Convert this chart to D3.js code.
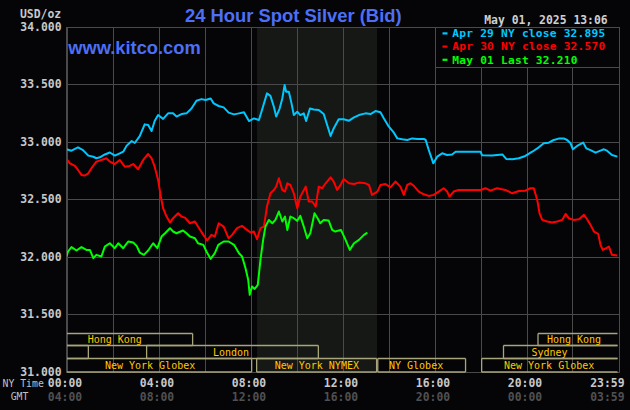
<!DOCTYPE html>
<html><head><meta charset="utf-8">
<script src="https://cdn.jsdelivr.net/npm/d3@7"></script>
<style>
html,body{margin:0;padding:0;background:#050508;}
svg{display:block;}
</style></head>
<body>
<svg id="c" width="630" height="410"></svg>
<script>
// ---- data (time in minutes after 00:00 NY time) ----
const blueT = [0,13,30,43,57,70,78,87,100,113,126,139,148,157,170,178,191,204,213,222,230,239,252,265,278,287,300,313,326,339,352,363,376,384,397,410,423,437,450,463,476,489,502,510,523,532,541,547,556,563,569,573,580,587,593,602,610,619,625,635,645,658,671,680,689,697,710,723,737,750,763,780,793,806,819,828,841,854,863,876,889,902,915,932,937,945,957,967,980,993,1006,1015,1041,1080,1084,1110,1137,1147,1163,1180,1197,1215,1232,1245,1258,1271,1284,1297,1306,1315,1321,1332,1348,1356,1367,1380,1393,1402,1410,1423,1437];
const blueV = [32.935,32.923,32.952,32.928,32.88,32.87,32.857,32.865,32.89,32.907,32.88,32.9,32.914,32.967,33.007,32.99,33.05,33.152,33.146,33.094,33.181,33.233,33.2,33.248,33.248,33.22,33.242,33.248,33.29,33.358,33.372,33.365,33.378,33.335,33.312,33.3,33.254,33.239,33.248,33.257,33.181,33.204,33.19,33.277,33.422,33.4,33.306,33.22,33.29,33.378,33.494,33.436,33.436,33.335,33.233,33.262,33.233,33.248,33.181,33.29,33.281,33.277,33.242,33.146,33.051,33.117,33.196,33.196,33.184,33.213,33.233,33.248,33.242,33.268,33.257,33.204,33.132,33.08,33.03,33.022,33.016,33.03,33.025,33.025,33.016,32.929,32.813,32.871,32.9,32.886,32.89,32.914,32.914,32.914,32.883,32.88,32.89,32.851,32.848,32.857,32.877,32.914,32.952,32.987,32.993,33.016,33.028,33.03,33.016,32.987,32.935,32.964,32.993,32.943,32.928,32.906,32.923,32.935,32.923,32.886,32.871];

const redT = [0,9,22,30,39,48,57,65,78,91,104,113,126,139,152,165,174,187,200,213,222,230,239,246,252,261,270,278,291,300,309,322,335,343,357,367,378,387,397,410,423,432,445,458,471,480,489,497,506,515,523,532,541,547,554,563,570,576,584,593,602,610,624,632,641,650,658,667,676,689,697,706,715,723,737,750,763,780,789,797,811,819,832,845,858,871,880,889,897,906,919,932,945,958,971,984,993,999,1010,1023,1080,1093,1106,1123,1145,1163,1180,1197,1210,1219,1228,1234,1241,1254,1267,1280,1293,1302,1310,1323,1337,1350,1358,1367,1376,1387,1393,1399,1408,1415,1423,1437];
const redV = [32.851,32.813,32.79,32.755,32.712,32.707,32.726,32.77,32.828,32.842,32.857,32.828,32.807,32.842,32.784,32.79,32.807,32.761,32.842,32.894,32.857,32.784,32.668,32.523,32.422,32.349,32.297,32.335,32.378,32.349,32.34,32.291,32.306,32.262,32.19,32.141,32.19,32.175,32.291,32.262,32.16,32.19,32.248,32.268,32.233,32.21,32.219,32.152,32.248,32.262,32.436,32.552,32.581,32.61,32.683,32.581,32.567,32.639,32.625,32.552,32.422,32.523,32.61,32.48,32.48,32.436,32.61,32.596,32.639,32.691,32.654,32.581,32.625,32.677,32.639,32.633,32.645,32.639,32.625,32.538,32.567,32.625,32.633,32.604,32.654,32.61,32.538,32.625,32.639,32.617,32.567,32.543,32.529,32.538,32.567,32.596,32.567,32.523,32.567,32.581,32.581,32.596,32.575,32.596,32.581,32.552,32.572,32.575,32.596,32.596,32.494,32.378,32.32,32.306,32.297,32.306,32.32,32.372,32.335,32.32,32.326,32.364,32.326,32.277,32.219,32.199,32.103,32.059,32.074,32.088,32.016,32.01];

const greenT = [0,4,13,26,39,52,61,70,78,91,100,113,126,135,148,161,174,183,191,202,213,226,237,248,257,270,278,287,304,313,322,335,343,357,365,376,387,396,410,423,437,450,458,467,474,478,484,491,499,506,513,519,528,537,545,554,563,570,576,584,593,602,610,619,628,636,647,655,662,671,684,693,701,716,728,739,750,763,776,785];
const greenV = [32.001,32.045,32.083,32.054,32.083,32.059,32.059,31.987,32.016,32.001,32.088,32.117,32.074,32.117,32.074,32.132,32.123,32.094,32.036,32.016,32.054,32.117,32.074,32.175,32.204,32.248,32.219,32.204,32.228,32.204,32.175,32.161,32.117,32.103,32.045,31.981,32.03,32.103,32.132,32.132,32.103,32.03,32.001,31.9,31.799,31.668,31.741,31.719,31.755,31.972,32.146,32.262,32.32,32.291,32.32,32.393,32.306,32.349,32.233,32.349,32.335,32.312,32.355,32.262,32.161,32.204,32.378,32.335,32.291,32.32,32.314,32.233,32.219,32.233,32.146,32.059,32.117,32.146,32.19,32.21];

const yTicks = [31.0,31.5,32.0,32.5,33.0,33.5,34.0];
const xTicks = [0,240,480,720,960,1200,1439];
const nyLabels = ["00:00","04:00","08:00","12:00","16:00","20:00","23:59"];
const gmtLabels = ["04:00","08:00","12:00","16:00","20:00","00:00","03:59"];
const legendLabels = ["Apr 29 NY close 32.895","Apr 30 NY close 32.570","May 01 Last 32.210"];
const seriesColors = ["#00c8ff","#ff0000","#00ff00"];
const nymexShade = [497, 810];
// sessions: row, start, end, label, label centre (minutes)
const sessRow = [0,0,1,1,1,2,2,2,2];
const sessStart = [0,1230,0,209,1140,0,496,812,1083];
const sessEnd = [329,1440,57,657,1440,483,809,1041,1440];
const sessLabel = ["Hong Kong","Hong Kong","","London","Sydney","New York Globex","New York NYMEX","NY Globex","New York Globex"];
const sessLabelAt = [126,1324,0,429,1260,218,653,912,1259];

// ---- layout ----
const L = 66.5, R = 618.5, T = 27, B = 371.5;
const x = d3.scaleLinear().domain([0,1440]).range([L,R]);
const y = d3.scaleLinear().domain([31,34]).range([B,T]);
const svg = d3.select("#c");
const mono = "'DejaVu Sans Mono', monospace";
const gridC = "#4a4a4a";

svg.append("rect").attr("width",630).attr("height",410).attr("fill","#050508");

// shaded NYMEX hours
svg.append("rect").attr("x",x(nymexShade[0])).attr("y",T).attr("width",x(nymexShade[1])-x(nymexShade[0])).attr("height",B-T).attr("fill","#151815");

// grid
const grid = svg.append("g").attr("shape-rendering","crispEdges").attr("stroke",gridC).attr("stroke-width",1);
const hGrid = d3.range(0,1441,120);
grid.selectAll("line.v").data(hGrid).join("line").attr("class","v")
  .attr("x1",d=>Math.round(x(d))+0.5).attr("x2",d=>Math.round(x(d))+0.5).attr("y1",T).attr("y2",B+0.5);
grid.selectAll("line.h").data(yTicks).join("line").attr("class","h")
  .attr("x1",L).attr("x2",R+1).attr("y1",d=>Math.round(y(d))+0.5).attr("y2",d=>Math.round(y(d))+0.5);

// sessions
const rowTop = [333.5,345.5,358.5], rowH = [12,13,13.5];
const sg = svg.append("g").attr("stroke","#a8a57a").attr("stroke-width",1.3).attr("fill","none");
sessRow.forEach((r,i)=>{
  const x0 = x(sessStart[i]), x1 = sessEnd[i]>=1440 ? R-1 : x(sessEnd[i]);
  const y0 = rowTop[r], y1 = rowTop[r]+rowH[r];
  let p = `M${x0},${y0}H${x1}M${x0},${y1}H${x1}`;
  if (sessStart[i]>0) p += `M${x0},${y0}V${y1}`;
  if (sessEnd[i]<1440) p += `M${x1},${y0}V${y1}`;
  sg.append("path").attr("d",p);
});
svg.append("g").selectAll("text").data(sessLabel.map((s,i)=>i).filter(i=>sessLabel[i])).join("text")
  .attr("x",i=>x(sessLabelAt[i])).attr("y",i=>rowTop[sessRow[i]]+rowH[sessRow[i]]/2+3.6)
  .attr("text-anchor","middle").attr("font-family",mono).attr("font-size","10px").attr("fill","#ffc800")
  .text(i=>sessLabel[i]);

// lines
const clip = svg.append("clipPath").attr("id","pc").append("rect").attr("x",L).attr("y",T).attr("width",R-L).attr("height",B-T);
const line = d3.line().x(d=>x(d[0])).y(d=>y(d[1]));
const series = [[blueT,blueV],[redT,redV],[greenT,greenV]];
const lg = svg.append("g").attr("clip-path","url(#pc)");
series.forEach((s,i)=>{
  lg.append("path").datum(s[0].map((t,j)=>[t,s[1][j]])).attr("d",line)
    .attr("fill","none").attr("stroke",seriesColors[i]).attr("stroke-width",2).attr("stroke-linejoin","round");
});

// plot border
svg.append("path").attr("d",`M${L},${B+0.5}V${T+0.5}H${R+1}V${B+0.5}`).attr("fill","none").attr("stroke",gridC).attr("shape-rendering","crispEdges");

// legend box
const lgx = 435.5;
svg.append("rect").attr("x",lgx).attr("y",T+0.5).attr("width",R+1-lgx).attr("height",39.5).attr("fill","#050508").attr("stroke",gridC).attr("shape-rendering","crispEdges");
const legY = [33.3,46.5,59.7];
legendLabels.forEach((t,i)=>{
  svg.append("rect").attr("x",442.5).attr("y",legY[i]-1).attr("width",5).attr("height",2.2).attr("fill",seriesColors[i]);
  svg.append("text").attr("x",452.3).attr("y",legY[i]+3.9).attr("font-family",mono).attr("font-weight","bold")
    .attr("font-size","11.2px").attr("fill",seriesColors[i]).attr("textLength",t.length*6.95).attr("lengthAdjust","spacing").text(t);
});

// y axis labels
svg.append("g").selectAll("text").data(yTicks).join("text")
  .attr("x",61.5).attr("y",d=>y(d)+4).attr("text-anchor","end").attr("font-family",mono).attr("font-weight","bold")
  .attr("font-size","11.4px").attr("fill","#c8c8c8").text(d=>d3.format(".3f")(d));
svg.append("text").attr("x",20).attr("y",17.5).attr("font-family",mono).attr("font-weight","bold").attr("font-size","11.4px").attr("fill","#c8c8c8").text("USD/oz");

// x labels
svg.append("g").selectAll("text").data(xTicks).join("text")
  .attr("x",(d,i)=> i===6 ? 624.5 : x(d)-1.5).attr("y",387.3).attr("text-anchor",(d,i)=>i===6?"end":"middle")
  .attr("font-family",mono).attr("font-weight","bold").attr("font-size","11.4px").attr("fill","#c8c8c8").text((d,i)=>nyLabels[i]);
svg.append("g").selectAll("text").data(xTicks).join("text")
  .attr("x",(d,i)=> i===6 ? 624.5 : x(d)-1.5).attr("y",400.7).attr("text-anchor",(d,i)=>i===6?"end":"middle")
  .attr("font-family",mono).attr("font-weight","bold").attr("font-size","11.4px").attr("fill","#505050").text((d,i)=>gmtLabels[i]);
svg.append("text").attr("x",2.5).attr("y",387).attr("font-family",mono).attr("font-size","9.8px").attr("fill","#c0c0c0").text("NY Time");
svg.append("text").attr("x",19.5).attr("y",400.3).attr("text-anchor","middle").attr("font-family",mono).attr("font-size","9.8px").attr("fill","#c0c0c0").text("GMT");

// titles
svg.append("text").attr("x",293.3).attr("y",22.3).attr("text-anchor","middle").attr("font-family","'Liberation Sans', Arial, sans-serif")
  .attr("font-weight","bold").attr("font-size","18.4px").attr("fill","#4d6ff5").text("24 Hour Spot Silver (Bid)");
svg.append("text").attr("x",68.3).attr("y",54.3).attr("font-family","'Liberation Sans', Arial, sans-serif")
  .attr("font-weight","bold").attr("font-size","18.3px").attr("fill","#4d6ff5").text("www.kitco.com");
svg.append("text").attr("x",607.7).attr("y",24).attr("text-anchor","end").attr("font-family",mono).attr("font-weight","bold")
  .attr("font-size","11.4px").attr("fill","#d0d0d0").text("May 01, 2025 13:06");
</script>
</body></html>
